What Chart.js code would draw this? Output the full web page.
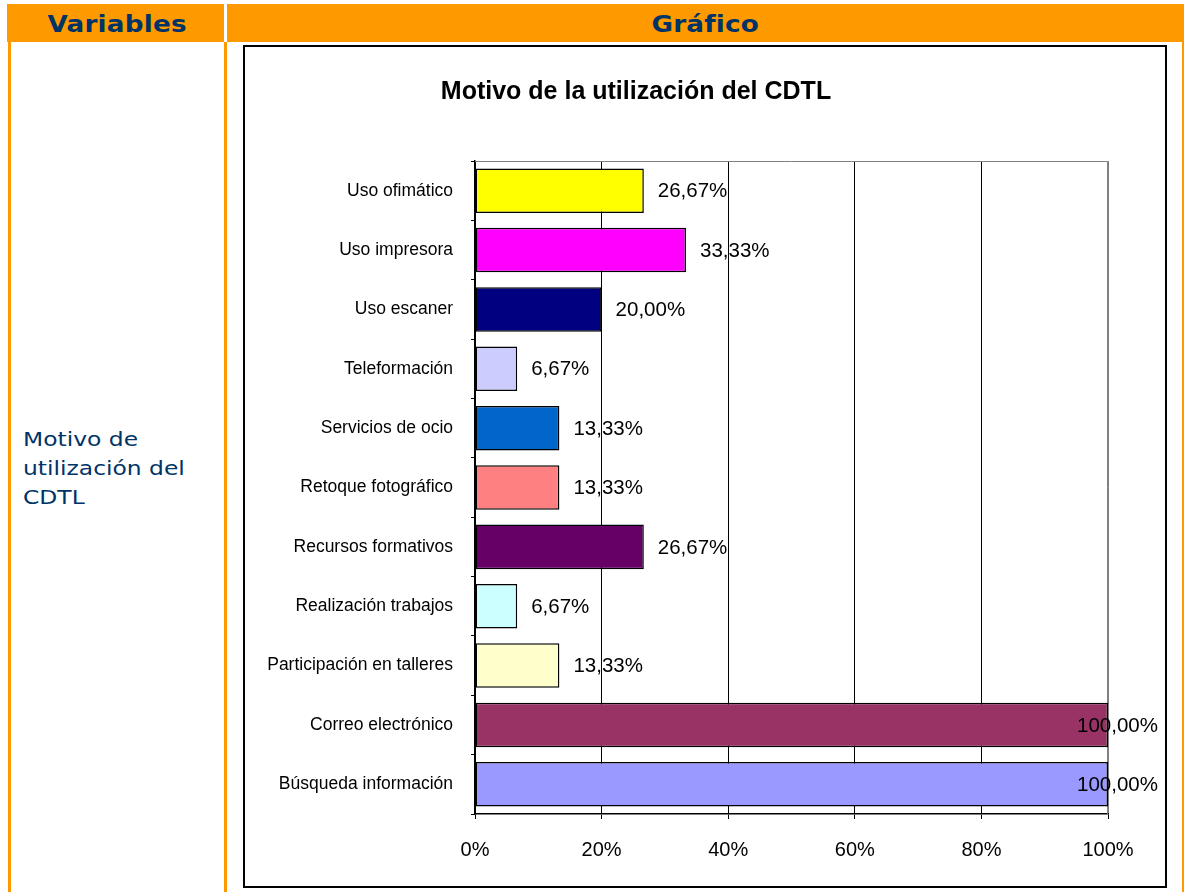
<!DOCTYPE html>
<html>
<head>
<meta charset="utf-8">
<script src="https://cdn.jsdelivr.net/npm/chart.js@4/dist/chart.umd.min.js"></script>
<style>
    body { margin: 0; background: #fff; width: 1184px; height: 892px; overflow: hidden; position: relative; font-family: "DejaVu Sans", Verdana, sans-serif; }
    .band { position: absolute; left: 7px; top: 4px; width: 1177px; height: 38px; background: #ff9900; }
    .sep { position: absolute; left: 224px; top: 4px; width: 3px; height: 38px; background: #fff; }
    .head { position: absolute; top: 4px; height: 38px; line-height: 40px; text-align: center; color: #003366; font-weight: bold; font-size: 23px; }
    .head span { display: inline-block; transform: scaleX(1.14); letter-spacing: 0.2px; }
    .vline { position: absolute; top: 42px; bottom: 0; width: 3px; background: #ff9900; }
    .varname { position: absolute; left: 23px; top: 425px; color: #003366; font-size: 20px; line-height: 29px; transform: scaleX(1.17); transform-origin: left top; }
    .box { position: absolute; left: 243px; top: 45px; width: 920px; height: 839px; border: 2px solid #000; background: #fff; }
    #chart { position: absolute; left: 0; top: 0; }
</style>
</head>
<body>
<div class="band"></div>
<div class="sep"></div>
<div class="head" style="left:10px;width:214px;"><span>Variables</span></div>
<div class="head" style="left:227px;width:956px;"><span>Gráfico</span></div>
<div class="vline" style="left:8px;"></div>
<div class="vline" style="left:224px;"></div>
<div class="vline" style="left:1182px;"></div>
<div class="varname">Motivo de<br>utilización del<br>CDTL</div>
<div class="box"><canvas id="chart" width="920" height="839"></canvas></div>

<script>
/* ============================================
   DATA
============================================ */

const chartTitle = "Motivo de la utilización del CDTL";

const categories = [
    "Uso ofimático",
    "Uso impresora",
    "Uso escaner",
    "Teleformación",
    "Servicios de ocio",
    "Retoque fotográfico",
    "Recursos formativos",
    "Realización trabajos",
    "Participación en talleres",
    "Correo electrónico",
    "Búsqueda información"
];

const percentages = [26.67, 33.33, 20.00, 6.67, 13.33, 13.33, 26.67, 6.67, 13.33, 100.00, 100.00];

const barColors = [
    "#ffff00", "#ff00ff", "#000080", "#ccccff", "#0066cc", "#ff8080",
    "#660066", "#ccffff", "#ffffcc", "#993366", "#9999ff"
];

const xTicks = [0, 20, 40, 60, 80, 100];

const FONT = "Arial, 'Liberation Sans', sans-serif";

/* ============================================
   Plugins: title, plot border, value labels
============================================ */

const titlePlugin = {
    id: "excelTitle",
    afterDraw(chart) {
        const ctx = chart.ctx;
        ctx.save();
        ctx.font = "bold 25px " + FONT;
        ctx.fillStyle = "#000";
        ctx.textAlign = "center";
        ctx.textBaseline = "middle";
        ctx.fillText(chartTitle, 391, 45);
        ctx.restore();
    }
};

const valueLabels = {
    id: "valueLabels",
    afterDatasetsDraw(chart) {
        const ctx = chart.ctx;
        const meta = chart.getDatasetMeta(0);
        ctx.save();
        ctx.font = "20.5px " + FONT;
        ctx.fillStyle = "#000";
        ctx.textBaseline = "middle";
        meta.data.forEach((bar, i) => {
            const txt = percentages[i].toFixed(2).replace(".", ",") + "%";
            const w = ctx.measureText(txt).width;
            let x = bar.x + 14;
            if (x + w > chart.width - 7) x = chart.width - 7 - w;
            ctx.fillText(txt, x, bar.y + 1);
        });
        ctx.restore();
    }
};

const plotBorder = {
    id: "plotBorder",
    beforeDatasetsDraw(chart) {
        const a = chart.chartArea;
        const ctx = chart.ctx;
        ctx.save();
        ctx.strokeStyle = "#808080";
        ctx.lineWidth = 1;
        ctx.beginPath();
        ctx.moveTo(a.left, a.top + 0.5);
        ctx.lineTo(a.right - 0.5, a.top + 0.5);
        ctx.lineTo(a.right - 0.5, a.bottom);
        ctx.stroke();
        ctx.restore();
    }
};

/* ============================================
   Chart
============================================ */

const ctx = document.getElementById("chart").getContext("2d");

new Chart(ctx, {
    type: "bar",
    data: {
        labels: categories,
        datasets: [{
            data: percentages,
            backgroundColor: barColors,
            borderColor: "#000",
            borderWidth: 1.5,
            borderSkipped: false,
            categoryPercentage: 1,
            barPercentage: 0.75
        }]
    },
    options: {
        indexAxis: "y",
        responsive: false,
        animation: false,
        layout: { padding: { top: 114, right: 57, left: 0, bottom: 0 } },
        plugins: {
            legend: { display: false },
            title: { display: false },
            tooltip: { enabled: false }
        },
        scales: {
            x: {
                min: 0,
                max: 100,
                afterBuildTicks(scale) {
                    scale.ticks = xTicks.map(v => ({ value: v }));
                },
                afterFit(scale) { scale.height = 72; },
                grid: {
                    color: ctx => (ctx.index === xTicks.length - 1 ? "#808080" : "#000"),
                    lineWidth: 1,
                    tickLength: 5,
                    tickColor: "#000"
                },
                border: { color: "#000", width: 1.5 },
                ticks: {
                    padding: 19,
                    color: "#000",
                    font: { family: FONT, size: 20 },
                    callback: v => v + "%"
                }
            },
            y: {
                afterFit(scale) { scale.width = 230; },
                grid: {
                    display: true,
                    drawOnChartArea: false,
                    tickLength: 4,
                    color: "#000"
                },
                border: { color: "#000", width: 1.5 },
                ticks: {
                    padding: 18,
                    color: "#000",
                    autoSkip: false,
                    font: { family: FONT, size: 17.5 }
                }
            }
        }
    },
    plugins: [plotBorder, valueLabels, titlePlugin]
});
</script>
</body>
</html>
